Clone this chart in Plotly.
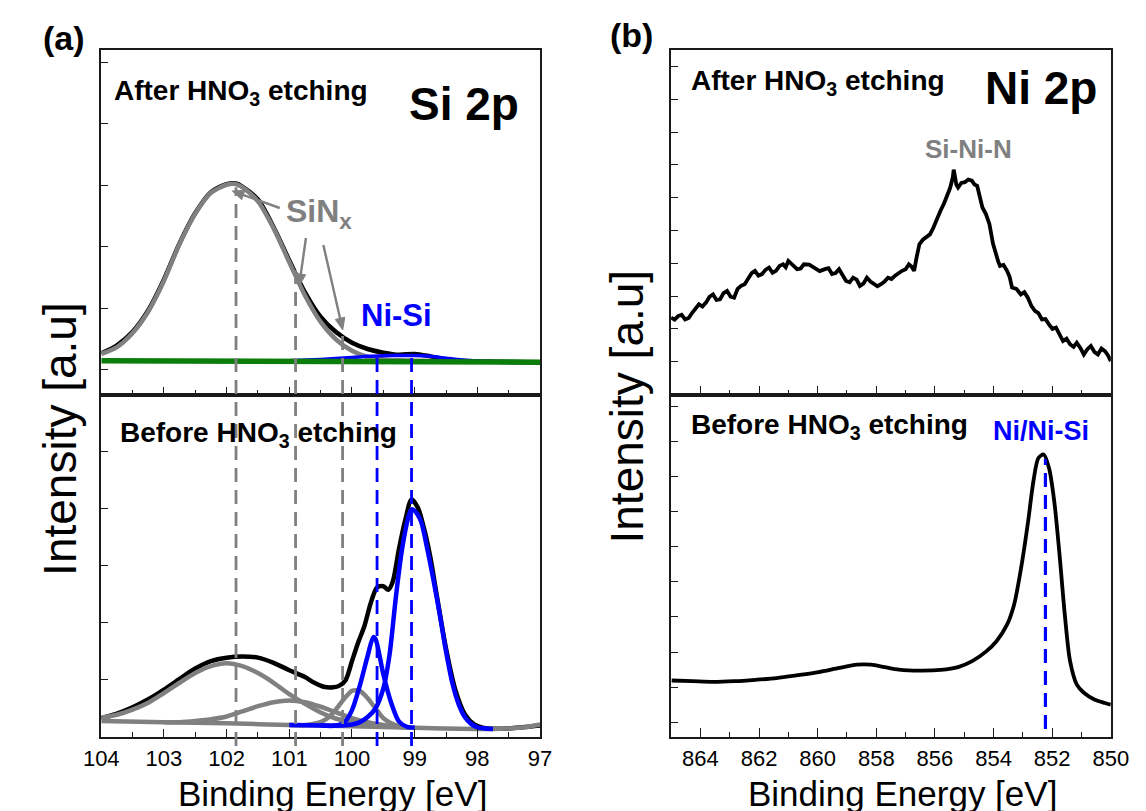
import math
import plotly.graph_objects as go

W, H = 1146, 811
FONT = "Liberation Sans, Arial, sans-serif"

# ---------------- data ----------------
# (a) Si 2p  - after HNO3 etching (top)
si_after_E = [104.0, 103.75, 103.5, 103.25, 103.0, 102.75, 102.5, 102.25, 102.0, 101.85,
              101.75, 101.5, 101.25, 101.0, 100.75, 100.5, 100.25, 100.0, 99.75, 99.5,
              99.25, 99.0, 98.75, 98.5, 98.25, 98.0, 97.5, 97.0]
si_after_total = [0.27, 0.40, 0.62, 0.97, 1.47, 2.06, 2.55, 2.89, 3.02, 3.03,
                  2.98, 2.77, 2.32, 1.78, 1.26, 0.86, 0.61, 0.44, 0.34, 0.28,
                  0.245, 0.26, 0.22, 0.17, 0.15, 0.14, 0.13, 0.12]
si_after_sinx = [0.26, 0.37, 0.60, 0.95, 1.45, 2.05, 2.54, 2.88, 3.01, 3.02,
                 2.97, 2.74, 2.30, 1.75, 1.21, 0.78, 0.49, 0.31, 0.21, 0.17,
                 0.155, 0.15, 0.145, 0.14, 0.14, 0.135, 0.13, 0.125]
si_after_nisi_E = [101.25, 101.0, 100.5, 100.0, 99.75, 99.5, 99.25, 99.0, 98.75, 98.5, 98.25, 98.0, 97.75]
si_after_nisi = [0.145, 0.15, 0.17, 0.20, 0.22, 0.23, 0.235, 0.235, 0.22, 0.19, 0.16, 0.145, 0.14]
si_after_bg_E = [104.0, 102.0, 100.0, 98.0, 97.0]
si_after_bg = [0.15, 0.145, 0.14, 0.13, 0.125]

# (a) Si 2p - before HNO3 etching (bottom)
si_before_E = [104.0, 103.75, 103.5, 103.25, 103.0, 102.75, 102.5, 102.25, 102.0, 101.75,
               101.5, 101.25, 101.0, 100.75, 100.6, 100.45, 100.3, 100.2, 100.1, 100.0,
               99.9, 99.8, 99.7, 99.6, 99.5, 99.42, 99.35, 99.25, 99.15, 99.05,
               98.95, 98.85, 98.75, 98.65, 98.5, 98.35, 98.2, 98.05, 97.9, 97.5, 97.0]
si_before_total = [0.33, 0.41, 0.52, 0.66, 0.83, 1.02, 1.20, 1.33, 1.39, 1.41,
                   1.39, 1.30, 1.17, 1.05, 0.95, 0.88, 0.87, 0.90, 1.00, 1.33,
                   1.66, 1.95, 2.35, 2.62, 2.64, 2.58, 2.72, 3.30, 3.80, 4.16,
                   4.02, 3.65, 3.15, 2.50, 1.55, 0.82, 0.40, 0.22, 0.16, 0.15, 0.2]
sinx1_E = [104.0, 103.75, 103.5, 103.25, 103.0, 102.75, 102.5, 102.25, 102.0, 101.75,
           101.5, 101.25, 101.0, 100.75, 100.5, 100.25, 100.0, 99.75, 99.5, 99.25, 99.0]
sinx1 = [0.34, 0.39, 0.48, 0.60, 0.77, 0.95, 1.12, 1.24, 1.29, 1.24,
         1.12, 0.95, 0.75, 0.58, 0.43, 0.32, 0.26, 0.21, 0.19, 0.18, 0.16]
sinx2_E = [103.0, 102.75, 102.5, 102.25, 102.0, 101.75, 101.5, 101.25, 101.0, 100.75,
           100.5, 100.25, 100.0, 99.75, 99.5, 99.25, 99.0]
sinx2 = [0.26, 0.26, 0.28, 0.31, 0.36, 0.45, 0.54, 0.61, 0.64, 0.61,
         0.53, 0.43, 0.33, 0.26, 0.21, 0.18, 0.16]
sinx3_E = [101.0, 100.75, 100.5, 100.375, 100.25, 100.125, 100.0, 99.93, 99.875, 99.75,
           99.625, 99.5, 99.375, 99.25, 99.0]
sinx3 = [0.21, 0.21, 0.26, 0.34, 0.49, 0.67, 0.81, 0.82, 0.81, 0.68,
         0.50, 0.33, 0.24, 0.19, 0.16]
nisi1_E = [100.5, 100.25, 100.125, 100.0, 99.875, 99.75, 99.66, 99.625, 99.5, 99.375, 99.25, 99.125, 99.0]
nisi1 = [0.20, 0.20, 0.25, 0.47, 0.90, 1.42, 1.75, 1.72, 1.10, 0.60, 0.27, 0.18, 0.16]
nisi2_E = [101.0, 100.5, 100.25, 100.0, 99.875, 99.75, 99.625, 99.5, 99.4, 99.3,
           99.2, 99.1, 99.05, 99.0, 98.9, 98.8, 98.7, 98.6, 98.5, 98.4,
           98.3, 98.2, 98.1, 98.0, 97.75]
nisi2 = [0.21, 0.20, 0.20, 0.22, 0.26, 0.35, 0.50, 0.85, 1.45, 2.45,
         3.30, 3.85, 3.99, 3.96, 3.78, 3.30, 2.75, 2.15, 1.50, 0.95,
         0.58, 0.35, 0.23, 0.17, 0.14]
si_before_bg_E = [104.0, 103.0, 102.0, 101.0, 100.0, 99.0, 98.0, 97.75, 97.5, 97.25, 97.0]
si_before_bg = [0.28, 0.26, 0.24, 0.21, 0.19, 0.16, 0.14, 0.14, 0.15, 0.17, 0.22]

# reference lines (binding energies, eV) and their upper ends (top-panel intensity)
sinx_lines_E = [101.85, 100.9, 100.15]
sinx_lines_top = [2.97, 1.70, 0.60]
nisi_lines_E = [99.6, 99.05]
nisi_lines_top = [0.24, 0.24]

# (b) Ni 2p - after HNO3 etching (top), noisy spectrum
ni_after_E = [865.00, 864.88, 864.76, 864.64, 864.52, 864.40, 864.28, 864.16, 864.05, 863.93,
              863.81, 863.69, 863.57, 863.45, 863.33, 863.21, 863.09, 862.97, 862.85, 862.73,
              862.61, 862.49, 862.37, 862.25, 862.14, 862.02, 861.90, 861.78, 861.66, 861.54,
              861.42, 861.30, 861.18, 861.09, 861.00, 860.85, 860.70, 860.58, 860.47, 860.29,
              860.11, 859.93, 859.75, 859.63, 859.51, 859.39, 859.27, 859.15, 859.03, 858.91,
              858.79, 858.67, 858.56, 858.44, 858.32, 858.20, 858.08, 857.96, 857.84, 857.72,
              857.60, 857.48, 857.36, 857.24, 857.12, 857.00, 856.89, 856.80, 856.71, 856.62,
              856.53, 856.41, 856.29, 856.17, 856.05, 855.93, 855.81, 855.69, 855.57, 855.48,
              855.39, 855.36, 855.33, 855.27, 855.21, 855.10, 854.98, 854.86, 854.74, 854.65,
              854.56, 854.47, 854.38, 854.26, 854.14, 854.02, 853.90, 853.84, 853.78, 853.66,
              853.54, 853.45, 853.37, 853.22, 853.07, 852.95, 852.83, 852.71, 852.59, 852.47,
              852.35, 852.23, 852.11, 851.99, 851.87, 851.75, 851.63, 851.51, 851.39, 851.27,
              851.16, 851.04, 850.92, 850.80, 850.68, 850.56, 850.44, 850.32, 850.20, 850.10,
              850.00]
ni_after = [2.34, 2.28, 2.39, 2.43, 2.29, 2.33, 2.49, 2.62, 2.75, 2.68,
            2.80, 2.98, 3.05, 2.88, 2.90, 3.09, 3.16, 2.98, 2.95, 3.22,
            3.31, 3.36, 3.56, 3.70, 3.77, 3.62, 3.67, 3.80, 3.87, 3.71,
            3.77, 3.92, 3.97, 3.88, 4.07, 3.95, 3.82, 3.84, 3.97, 3.96,
            3.87, 3.76, 3.82, 3.85, 3.67, 3.70, 3.82, 3.66, 3.46, 3.42,
            3.56, 3.50, 3.31, 3.38, 3.56, 3.44, 3.36, 3.30, 3.36, 3.44,
            3.56, 3.52, 3.62, 3.70, 3.77, 3.82, 3.97, 3.90, 3.77, 4.20,
            4.58, 4.72, 4.79, 4.88, 5.09, 5.38, 5.60, 5.82, 6.11, 6.30,
            6.62, 6.85, 6.72, 6.40, 6.31, 6.45, 6.47, 6.55, 6.52, 6.40,
            6.36, 6.05, 5.70, 5.50, 5.19, 4.60, 4.18, 4.05, 3.92, 3.95,
            3.77, 3.58, 3.26, 3.22, 3.05, 3.12, 2.95, 2.70, 2.55, 2.48,
            2.29, 2.30, 2.14, 2.00, 2.04, 1.85, 1.63, 1.70, 1.53, 1.45,
            1.58, 1.42, 1.22, 1.38, 1.48, 1.30, 1.22, 1.40, 1.32, 1.20,
            1.02]

# (b) Ni 2p - before HNO3 etching (bottom)
ni_before_E = [864.98, 864.26, 863.55, 862.83, 862.12, 861.40, 860.69, 859.97, 859.26, 858.66,
               858.18, 857.71, 857.23, 856.52, 855.80, 855.21, 854.73, 854.25, 853.90, 853.54,
               853.30, 853.06, 852.82, 852.64, 852.47, 852.29, 852.11, 851.93, 851.75, 851.57,
               851.39, 851.16, 850.92, 850.56, 850.20, 850.00]
ni_before = [1.19, 1.17, 1.15, 1.17, 1.21, 1.26, 1.34, 1.43, 1.55, 1.64,
             1.64, 1.57, 1.50, 1.47, 1.49, 1.57, 1.74, 2.02, 2.31, 2.78,
             3.35, 4.40, 5.73, 6.87, 7.53, 7.63, 7.25, 6.30, 4.78, 3.07,
             1.74, 1.07, 0.84, 0.65, 0.55, 0.50]
ni_line_E = 852.23
ni_line_span = [-0.19, 7.5]

si_xticks = [104, 103, 102, 101, 100, 99, 98, 97]
ni_xticks = [864, 862, 860, 858, 856, 854, 852, 850]

# ---------------- geometry (pixels) ----------------
AX = (77.7, 530.7)
BX = (666.0, 1120.0)
Y_TOP, Y_MID, Y_BOT = 42.0, 386.5, 729.0


def fx(px):
    return px / W


def fy(py):
    return 1 - py / H


dom_a = [fx(AX[0]), fx(AX[1])]
dom_b = [fx(BX[0]), fx(BX[1])]
dom_low = [fy(Y_BOT), fy(Y_MID)]
dom_up = [fy(Y_MID), fy(Y_TOP)]

BLACK = "#000000"
GRAY = "#808080"
BLUE = "#0000ff"
GREEN = "#0a7d0a"

fig = go.Figure()


def line(x, y, color, width, xa, ya, shape="spline"):
    fig.add_trace(go.Scatter(x=x, y=y, mode="lines", xaxis=xa, yaxis=ya,
                             line=dict(color=color, width=width, shape=shape,
                                       smoothing=0.8 if shape == "spline" else None),
                             showlegend=False, hoverinfo="skip"))


# (a) top
line(si_after_E, si_after_total, BLACK, 4.5, "x2", "y2")
line(si_after_E, si_after_sinx, GRAY, 4.5, "x2", "y2")
line(si_after_nisi_E, si_after_nisi, BLUE, 3.5, "x2", "y2")
line(si_after_bg_E, si_after_bg, GREEN, 5.5, "x2", "y2", shape="linear")
# (a) bottom
line(si_before_E, si_before_total, BLACK, 4.5, "x", "y")
line(si_before_bg_E, si_before_bg, GRAY, 4.5, "x", "y")
line(sinx1_E, sinx1, GRAY, 4.5, "x", "y")
line(sinx2_E, sinx2, GRAY, 4.5, "x", "y")
line(sinx3_E, sinx3, GRAY, 4.5, "x", "y")
line(nisi1_E, nisi1, BLUE, 4.5, "x", "y")
line(nisi2_E, nisi2, BLUE, 4.5, "x", "y")
# (b)
line(ni_after_E, ni_after, BLACK, 3.8, "x4", "y4", shape="linear")
line(ni_before_E, ni_before, BLACK, 3.8, "x3", "y3")

frame = dict(showline=True, linecolor="#1a1a1a", linewidth=1.5, mirror=True,
             showgrid=False, zeroline=False, ticks="inside", tickcolor="#1a1a1a",
             tickwidth=1.3)
tickfont = dict(family=FONT, size=22, color=BLACK)
minor_a = dict(dtick=0.5, ticks="inside", ticklen=5, tickcolor="#1a1a1a", tickwidth=1.3)
minor_b = dict(dtick=1, ticks="inside", ticklen=5, tickcolor="#1a1a1a", tickwidth=1.3)

layout = dict(
    width=W, height=H, autosize=False,
    margin=dict(l=0, r=0, t=0, b=0),
    paper_bgcolor="white", plot_bgcolor="white",
    xaxis=dict(domain=dom_a, anchor="y", range=[104, 97], tickvals=si_xticks,
               ticklen=8, tickfont=tickfont, ticklabelstandoff=1, minor=minor_a, **frame),
    xaxis2=dict(domain=dom_a, anchor="y2", matches="x", range=[104, 97], tickvals=si_xticks,
                ticklen=8, showticklabels=False, minor=minor_a, **frame),
    yaxis=dict(domain=dom_low, anchor="x", range=[0, 6], dtick=1, ticklen=7,
               showticklabels=False, **frame),
    yaxis2=dict(domain=dom_up, anchor="x2", range=[-0.4, 5.2], tick0=0, dtick=1, ticklen=7,
                showticklabels=False, **frame),
    xaxis3=dict(domain=dom_b, anchor="y3", range=[865, 850], tickvals=ni_xticks,
                ticklen=9, tickfont=tickfont, ticklabelstandoff=1, minor=minor_b, **frame),
    xaxis4=dict(domain=dom_b, anchor="y4", matches="x3", range=[865, 850], tickvals=ni_xticks,
                ticklen=9, showticklabels=False, minor=minor_b, **frame),
    yaxis3=dict(domain=dom_low, anchor="x3", range=[-0.42, 9.34], tick0=0, dtick=1, ticklen=7,
                showticklabels=False, **frame),
    yaxis4=dict(domain=dom_up, anchor="x4", range=[0, 10.5], tick0=0, dtick=1, ticklen=7,
                showticklabels=False, **frame),
)
fig.update_layout(**layout)

# dashed reference lines spanning both Si 2p panels
up_lo, up_hi = -0.4, 5.2
bottom_end = fy(Y_BOT + 9)


def up_to_paper(v):
    return dom_up[0] + (v - up_lo) / (up_hi - up_lo) * (dom_up[1] - dom_up[0])


for e, top in zip(sinx_lines_E, sinx_lines_top):
    fig.add_shape(type="line", xref="x", yref="paper", x0=e, x1=e,
                  y0=bottom_end, y1=up_to_paper(top),
                  line=dict(color=GRAY, width=2.8, dash="14px,8px"))
for e, top in zip(nisi_lines_E, nisi_lines_top):
    fig.add_shape(type="line", xref="x", yref="paper", x0=e, x1=e,
                  y0=bottom_end, y1=up_to_paper(top),
                  line=dict(color=BLUE, width=2.8, dash="14px,8px"))
fig.add_shape(type="line", xref="x3", yref="y3", x0=ni_line_E, x1=ni_line_E,
              y0=ni_line_span[0], y1=ni_line_span[1],
              line=dict(color=BLUE, width=3.2, dash="14px,8px"))


def text(t, xp, yp, size, color=BLACK, bold=True, xanchor="center", yanchor="middle", angle=0):
    fig.add_annotation(text=f"<b>{t}</b>" if bold else t, xref="paper", yref="paper",
                       x=fx(xp), y=fy(yp), xanchor=xanchor, yanchor=yanchor,
                       showarrow=False, textangle=angle,
                       font=dict(family=FONT, size=size, color=color))


def arrow(head, tail, color=GRAY, head_len=12.0, head_half=5.0, width=2.4):
    """Arrow drawn as a line plus a filled triangular head (pixel geometry -> paper)."""
    hx, hy = head
    tx, ty = tail
    d = math.hypot(hx - tx, hy - ty)
    ux, uy = (hx - tx) / d, (hy - ty) / d
    nx, ny = -uy, ux
    bx, by = hx - head_len * ux, hy - head_len * uy
    fig.add_shape(type="line", xref="paper", yref="paper",
                  x0=fx(tx), y0=fy(ty), x1=fx(bx + 2 * ux), y1=fy(by + 2 * uy),
                  line=dict(color=color, width=width))
    p1 = (bx + head_half * nx, by + head_half * ny)
    p2 = (bx - head_half * nx, by - head_half * ny)
    path = (f"M {fx(hx)} {fy(hy)} L {fx(p1[0])} {fy(p1[1])} "
            f"L {fx(p2[0])} {fy(p2[1])} Z")
    fig.add_shape(type="path", xref="paper", yref="paper", path=path,
                  fillcolor=color, line=dict(color=color, width=1))


# panel labels
text("(a)", 39, 30, 34)
text("(b)", 625, 27, 34)
# Si 2p panel
text("After HNO<sub>3</sub> etching", 89, 84, 28, xanchor="left")
text("Si 2p", 511, 96, 46, xanchor="right")
text("Before HNO<sub>3</sub> etching", 95, 426, 28, xanchor="left")
text("SiN<sub>x</sub>", 266, 206, 32, color=GRAY, xanchor="left")
text("Ni-Si", 383, 307, 31, color=BLUE)
arrow((213, 183), (262, 200))
arrow((282, 278), (289, 230))
arrow((327, 322), (307, 237))
# Ni 2p panel
text("After HNO<sub>3</sub> etching", 684, 74, 28, xanchor="left")
text("Ni 2p", 1108, 80, 46, xanchor="right")
text("Si-Ni-N", 973, 141, 26, color=GRAY)
text("Before HNO<sub>3</sub> etching", 685, 418, 28, xanchor="left")
text("Ni/Ni-Si", 1048, 423, 27, color=BLUE)
# axis titles
text("Intensity [a.u]", 35, 431, 46, bold=False, angle=-90)
text("Intensity [a.u]", 621, 398, 46, bold=False, angle=-90)
text("Binding Energy [eV]", 316, 785, 35, bold=False)
text("Binding Energy [eV]", 905, 785, 35, bold=False)

fig.write_html("out.html")
